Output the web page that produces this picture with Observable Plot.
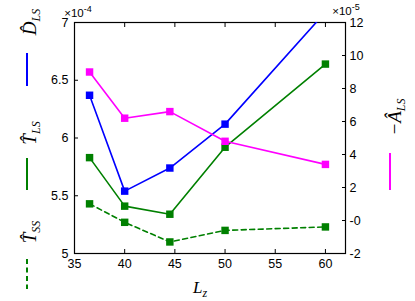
<!DOCTYPE html>
<html>
<head>
<meta charset="utf-8">
<script src="https://cdn.jsdelivr.net/npm/d3@7"></script>
<script src="https://cdn.jsdelivr.net/npm/@observablehq/plot@0.6"></script>
<style>
  html, body { margin: 0; padding: 0; background: white; }
</style>
</head>
<body>
<div id="chart"></div>
<script>
// Data (left axis ×1e-4, right axis ×1e-5)
const Lz = [36.5, 40, 44.5, 50, 60];
const D_LS = [6.37, 5.54, 5.74, 6.12, 7.09];
const T_LS = [5.83, 5.41, 5.34, 5.92, 6.64];
const T_SS = [5.43, 5.27, 5.10, 5.20, 5.23];
const negA_LS = [9.0, 6.2, 6.6, 4.8, 3.4];
const xTicks = [35, 40, 45, 50, 55, 60];
const yLeftTicks = [5, 5.5, 6, 6.5, 7];
const yRightTicks = [-2, 0, 2, 4, 6, 8, 10, 12];

const leftDomain = [5, 7];
const rightDomain = [-2, 12];
const toLeft = a => leftDomain[0] + (a - rightDomain[0]) * (leftDomain[1] - leftDomain[0]) / (rightDomain[1] - rightDomain[0]);
const fromLeft = v => Math.round(rightDomain[0] + (v - leftDomain[0]) * (rightDomain[1] - rightDomain[0]) / (leftDomain[1] - leftDomain[0]));

const rows = (ys, f = d => d) => Lz.map((x, i) => ({x, y: f(ys[i])}));

const blue = "#0000ff", green = "#008000", magenta = "#ff00ff";
const sq = 4.2;

const chart = Plot.plot({
  width: 415, height: 301,
  marginLeft: 74, marginRight: 70, marginTop: 22, marginBottom: 48,
  style: {fontFamily: "'Liberation Sans', Arial, sans-serif", fontSize: "12.5px", color: "black", background: "white"},
  x: {domain: [35, 62]},
  y: {domain: leftDomain},
  marks: [
    Plot.frame({stroke: "black", strokeWidth: 1.2}),
    Plot.axisX(xTicks, {anchor: "bottom", tickSize: -4, tickPadding: 10, tickFormat: d => String(d), label: null}),
    Plot.axisX(xTicks, {anchor: "top", tickSize: -4, tickFormat: () => "", label: null}),
    Plot.axisY(yLeftTicks, {anchor: "left", tickSize: -4, tickPadding: 10, tickFormat: d => String(d), label: null}),
    Plot.axisY(yRightTicks.map(toLeft), {anchor: "right", tickSize: -4, tickPadding: 8, tickFormat: fromLeft, label: null}),
    Plot.line(rows(T_SS), {x: "x", y: "y", stroke: green, strokeWidth: 1.6, strokeDasharray: "5,3.5", clip: true}),
    Plot.dot(rows(T_SS), {x: "x", y: "y", symbol: "square", r: sq, fill: green, clip: true}),
    Plot.line(rows(T_LS), {x: "x", y: "y", stroke: green, strokeWidth: 1.6, clip: true}),
    Plot.dot(rows(T_LS), {x: "x", y: "y", symbol: "square", r: sq, fill: green, clip: true}),
    Plot.line(rows(D_LS), {x: "x", y: "y", stroke: blue, strokeWidth: 1.6, clip: true}),
    Plot.dot(rows(D_LS), {x: "x", y: "y", symbol: "square", r: sq, fill: blue, clip: true}),
    Plot.line(rows(negA_LS, toLeft), {x: "x", y: "y", stroke: magenta, strokeWidth: 1.6, clip: true}),
    Plot.dot(rows(negA_LS, toLeft), {x: "x", y: "y", symbol: "square", r: sq, fill: magenta, clip: true})
  ]
});
document.getElementById("chart").appendChild(chart);

const svg = d3.select(chart);
// drop the empty top-axis labels (ticks only on top edge)
svg.selectAll("text").filter(function() { return this.textContent === ""; }).remove();

const serif = "'Liberation Serif', 'DejaVu Serif', serif";

// exponent labels
function expLabel(x, y, exp) {
  const t = svg.append("text").attr("x", x).attr("y", y)
    .attr("font-family", "'Liberation Sans', Arial, sans-serif").attr("font-size", 11.5).attr("fill", "black");
  t.append("tspan").text("×10");
  t.append("tspan").attr("dy", -5).attr("font-size", 9).text(exp);
}
expLabel(78, 17, "-4");
expLabel(346, 15, "-5");

// x label
const xl = svg.append("text").attr("x", 200).attr("y", 293)
  .attr("font-family", serif).attr("font-style", "italic").attr("font-size", 17).attr("fill", "black");
xl.append("tspan").text("L");
xl.append("tspan").attr("dy", 4).attr("font-size", 12).text("z");

// rotated legend-like y labels
function rotLabel(x, yc, main, sub) {
  const t = svg.append("text").attr("transform", `translate(${x},${yc}) rotate(-90)`)
    .attr("text-anchor", "middle")
    .attr("font-family", serif).attr("font-style", "italic").attr("font-size", 19).attr("fill", "black");
  t.append("tspan").text(main);
  t.append("tspan").attr("dy", 4).attr("font-size", 12).text(sub);
}
function seg(x, y1, y2, color, dash) {
  const l = svg.append("line").attr("x1", x).attr("x2", x).attr("y1", y1).attr("y2", y2)
    .attr("stroke", color).attr("stroke-width", 2);
  if (dash) l.attr("stroke-dasharray", dash);
}
rotLabel(36, 22, "D\u0302", "LS");
seg(27, 53, 86, blue);
rotLabel(36, 133, "T\u0302", "LS");
seg(27, 158, 190, green);
rotLabel(36, 232, "T\u0302", "SS");
seg(27, 259, 289, green, "5,3.5");
rotLabel(401, 117, "\u2212A\u0302", "LS");
seg(390, 153, 190, magenta);
</script>
</body>
</html>
